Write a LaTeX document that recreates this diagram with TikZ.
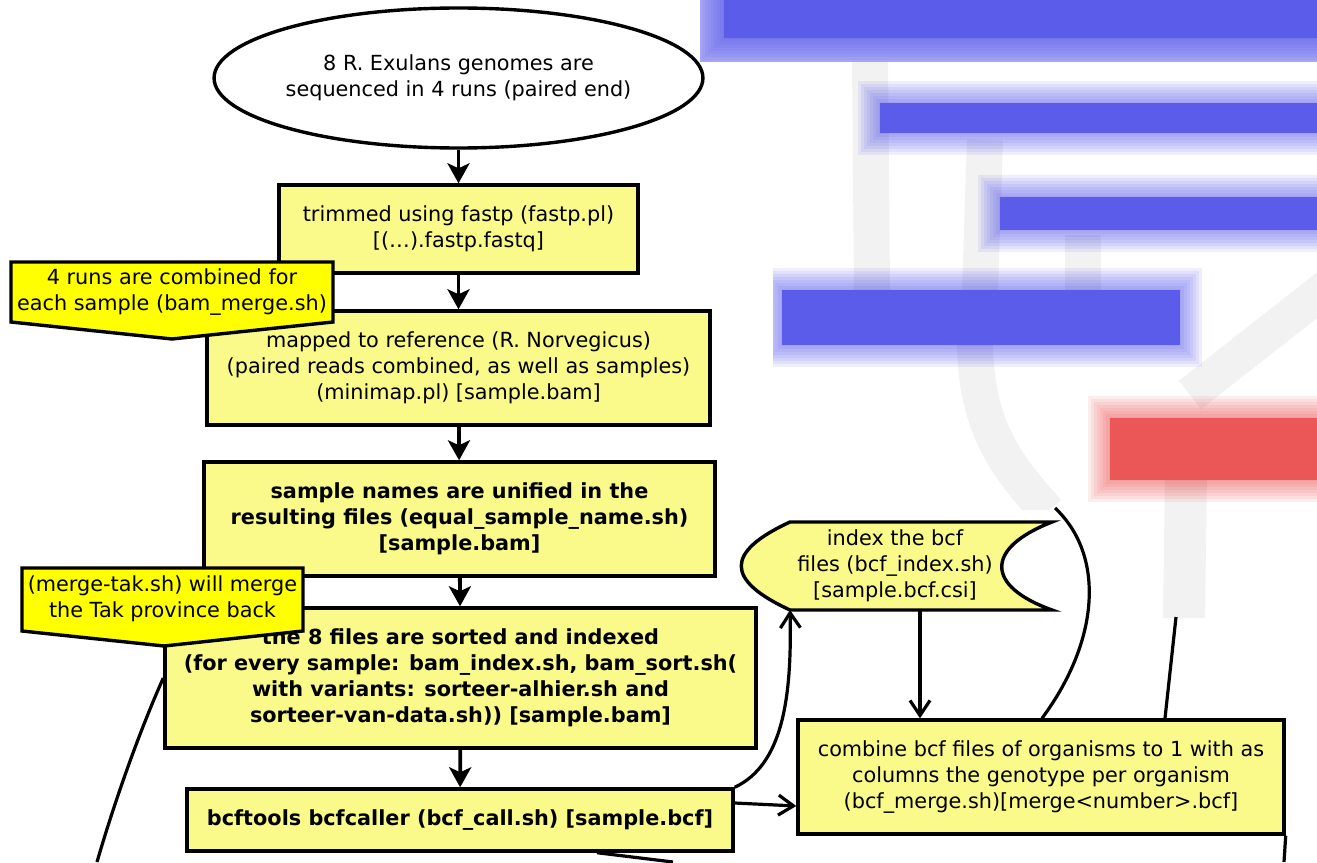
\documentclass[tikz,border=0pt]{standalone}
\usepackage{fontspec}
\setmainfont{DejaVu Sans}
\usetikzlibrary{arrows.meta,calc,shapes.geometric}

\definecolor{boxyellow}{RGB}{250,250,138}
\definecolor{noteyellow}{RGB}{255,255,0}
\definecolor{blurblue}{RGB}{92,92,235}
\definecolor{blurred}{RGB}{235,86,86}
\definecolor{blurgray}{RGB}{242,242,242}

\tikzset{
  stepbox/.style={draw, line width=3.4pt, fill=boxyellow, align=center, inner sep=0pt},
  startnode/.style={ellipse, draw, line width=3.4pt, fill=white, align=center, inner sep=0pt},
  notetext/.style={align=center, inner sep=0pt},
  noteshape/.style={draw, line width=3.4pt, fill=noteyellow, line join=miter},
  storeshape/.style={draw, line width=3.4pt, fill=boxyellow},
  flow/.style={line width=3.8pt, -{Stealth[length=20pt,width=22pt,inset=5pt]}},
  link/.style={line width=3.2pt, -{Straight Barb[length=15pt,width=20pt]}},
  wire/.style={line width=3.2pt},
}

% verwischter Balken: weicher Rand plus Kern
\newcommand{\blurbar}[5]{%
  \foreach \o in {22,19,...,1}{%
    \fill[#5,opacity=0.1] ({#1-\o},{#2-\o}) rectangle ({#3+\o},{#4+\o});}
  \fill[#5] (#1,#2) rectangle (#3,#4);}

\begin{document}
\begin{tikzpicture}[x=1pt,y=-1pt,font=\fontsize{20.8}{26}\selectfont]

\useasboundingbox (0,0) rectangle (1317,862);

% ------------------- verwischter Bereich rechts oben -------------------
\begin{scope}
  \clip (700,0) rectangle (1317,62) (773,62) rectangle (1317,510)
        (1150,510) rectangle (1222,618);

  % Verbindungen
  \draw[blurgray, line width=36pt] (870,62) -- (872,290);
  \draw[blurgray, line width=36pt] (985,140) -- (980,290);
  \draw[blurgray, line width=36pt] (1083,235) -- (1083,290);
  \draw[blurgray, line width=36pt] (975,340) .. controls (975,430) and (1010,470) .. (1048,512);
  \draw[blurgray, line width=36pt] (1330,285) -- (1190,395);
  \draw[blurgray, line width=42pt] (1186,470) -- (1184,620);

  % Kaesten
  \fill[blurblue!55] (700,0) rectangle (1317,62);
  \blurbar{724}{0}{1317}{38}{blurblue}
  \blurbar{880}{103}{1317}{133}{blurblue}
  \blurbar{1000}{197}{1317}{230}{blurblue}
  \blurbar{782}{290}{1180}{345}{blurblue}
  \blurbar{1110}{418}{1317}{480}{blurred}
\end{scope}

% ------------------- Hauptstrang -------------------
\node[startnode, minimum width=482pt, minimum height=140pt] (start) at (458.5,78)
  {8 R. Exulans genomes are\\sequenced in 4 runs (paired end)};
\node[stepbox, minimum width=359pt, minimum height=88pt] (trim) at (458.5,229)
  {trimmed using fastp (fastp.pl)\\{}[(…).fastp.fastq]};
\node[stepbox, minimum width=503pt, minimum height=114pt] (map) at (458.5,368)
  {mapped to reference (R. Norvegicus)\\(paired reads combined, as well as samples)\\(minimap.pl) [sample.bam]};
\node[stepbox, minimum width=511pt, minimum height=114pt, font=\fontsize{20.8}{26}\selectfont\bfseries] (names) at (459.5,519)
  {sample names are unified in the\\resulting files (equal\_sample\_name.sh)\\{}[sample.bam]};
\node[stepbox, minimum width=591pt, minimum height=140pt, font=\fontsize{20.8}{26}\selectfont\bfseries] (sort) at (460.5,678)
  {the 8 files are sorted and indexed\\(for every sample: bam\_index.sh, bam\_sort.sh(\\with variants: sorteer-alhier.sh and\\sorteer-van-data.sh)) [sample.bam]};
\node[stepbox, minimum width=546pt, minimum height=62pt, font=\fontsize{20.8}{26}\selectfont\bfseries] (call) at (460,820)
  {bcftools bcfcaller (bcf\_call.sh) [sample.bcf]};

\draw[flow] (start) -- (trim);
\draw[flow] (trim) -- (map);
\draw[flow] (map) -- (names);
\draw[flow] (names) -- (sort);
\draw[flow] (sort) -- (call);

% ------------------- Index und Merge -------------------
\coordinate (idxc) at (895,566);
\begin{scope}[shift={(idxc)}]
  \draw[storeshape] (-105,-44) -- (157,-44) .. controls (90,-18) and (90,20) .. (157,44)
    -- (-105,44) .. controls (-170,14) and (-170,-14) .. cycle;
\end{scope}
\node[notetext] (idx) at (idxc) {index the bcf\\files (bcf\_index.sh)\\{}[sample.bcf.csi]};
\coordinate (idxfoot) at ($(idxc)+(-105,44)$);
\coordinate (idxout) at ($(idxc)+(25,44)$);

\node[stepbox, minimum width=486pt, minimum height=114pt] (comb) at (1041,777)
  {combine bcf files of organisms to 1 with as\\columns the genotype per organism\\(bcf\_merge.sh)[merge<number>.bcf]};

\draw[link] (call.north east) .. controls (782,765) and (792,700) .. (idxfoot);
\draw[link] ([yshift=17pt]call.east) -- ([yshift=-29pt]comb.west);
\draw[link] (idxout) -- (idxout |- comb.north);

% lose Enden
\coordinate (inA) at (1055,508);
\coordinate (inB) at (1176,617);
\coordinate (outA) at (1284,862);
\coordinate (outB) at (97,862);
\coordinate (outC) at (673,862);
\draw[wire] (inA) .. controls (1105,555) and (1100,640) .. ([xshift=1pt]comb.north);
\draw[wire] (inB) -- ([xshift=124pt]comb.north);
\draw[wire] (comb.south east) -- (outA);
\draw[wire] (sort.west) .. controls (140,730) and (115,800) .. (outB);
\draw[wire] ([xshift=137pt]call.south) -- (outC);

% ------------------- Hinweise -------------------
\coordinate (mergec) at (172,292);
\draw[noteshape] (11,262) -- (333,262) -- (333,322) -- (172,339) -- (11,322) -- cycle;
\node[notetext] (mergenote) at (mergec) {4 runs are combined for\\each sample (bam\_merge.sh)};

\coordinate (takc) at (162.5,599);
\draw[noteshape] (22,568) -- (303,568) -- (303,631) -- (164,646) -- (22,631) -- cycle;
\node[notetext] (taknote) at (takc) {(merge-tak.sh) will merge\\the Tak province back};

\end{tikzpicture}
\end{document}
